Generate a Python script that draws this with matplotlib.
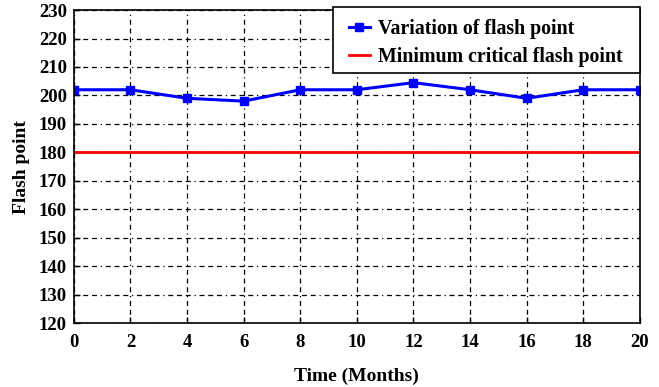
import matplotlib
matplotlib.use("Agg")
import matplotlib.pyplot as plt
from matplotlib.patches import Rectangle

months = [0, 2, 4, 6, 8, 10, 12, 14, 16, 18, 20]
flash_point = [202, 202, 199, 198, 202, 202, 204.5, 202, 199, 202, 202]
min_critical = 180
xticks = list(range(0, 21, 2))
yticks = list(range(120, 231, 10))

plt.rcParams['font.family'] = ['Liberation Serif', 'DejaVu Serif']
plt.rcParams['font.weight'] = 'bold'

W, H = 659, 387
fig = plt.figure(figsize=(W / 100, H / 100), dpi=100)
ax = fig.add_axes([0.112, 0.165, 0.859, 0.809])

ax.plot(months, flash_point, color='blue', lw=2.2, marker='s', ms=5.5,
        label='Variation of flash point')
ax.axhline(min_critical, color='red', lw=2, label='Minimum critical flash point')

ax.set_xlim(0, 20)
ax.set_ylim(120, 230)
ax.set_xticks(xticks)
ax.set_yticks(yticks)
ax.tick_params(labelsize=13.5, length=4, direction='in', width=1, pad=5)
ax.tick_params(axis='x', pad=8)
for lab in ax.get_xticklabels() + ax.get_yticklabels():
    lab.set_fontweight('bold')
ax.grid(True, color='black', linestyle=(0, (4, 3, 4, 3, 4, 3, 1, 3)), lw=0.9)
for s in ax.spines.values():
    s.set_linewidth(1.2)

ax.set_xlabel('Time (Months)', fontsize=14, fontweight='bold', labelpad=12)
ax.set_ylabel('Flash point', fontsize=14, fontweight='bold', labelpad=6)

# legend box frame
box = Rectangle((333 / W, 1 - 73 / H), 307 / W, 66 / H, transform=fig.transFigure,
                facecolor='white', edgecolor='black', lw=1.2, clip_on=False, zorder=4)
ax.add_patch(box)

leg = ax.legend(loc='upper left', bbox_to_anchor=(349 / W, 1 - 19 / H),
                bbox_transform=fig.transFigure, borderaxespad=0, borderpad=0,
                frameon=False,
                handlelength=1.05, handletextpad=0.4, labelspacing=0.4,
                prop={'weight': 'bold', 'size': 14.3})
leg.set_zorder(5)

fig.savefig('out.png', dpi=100)
